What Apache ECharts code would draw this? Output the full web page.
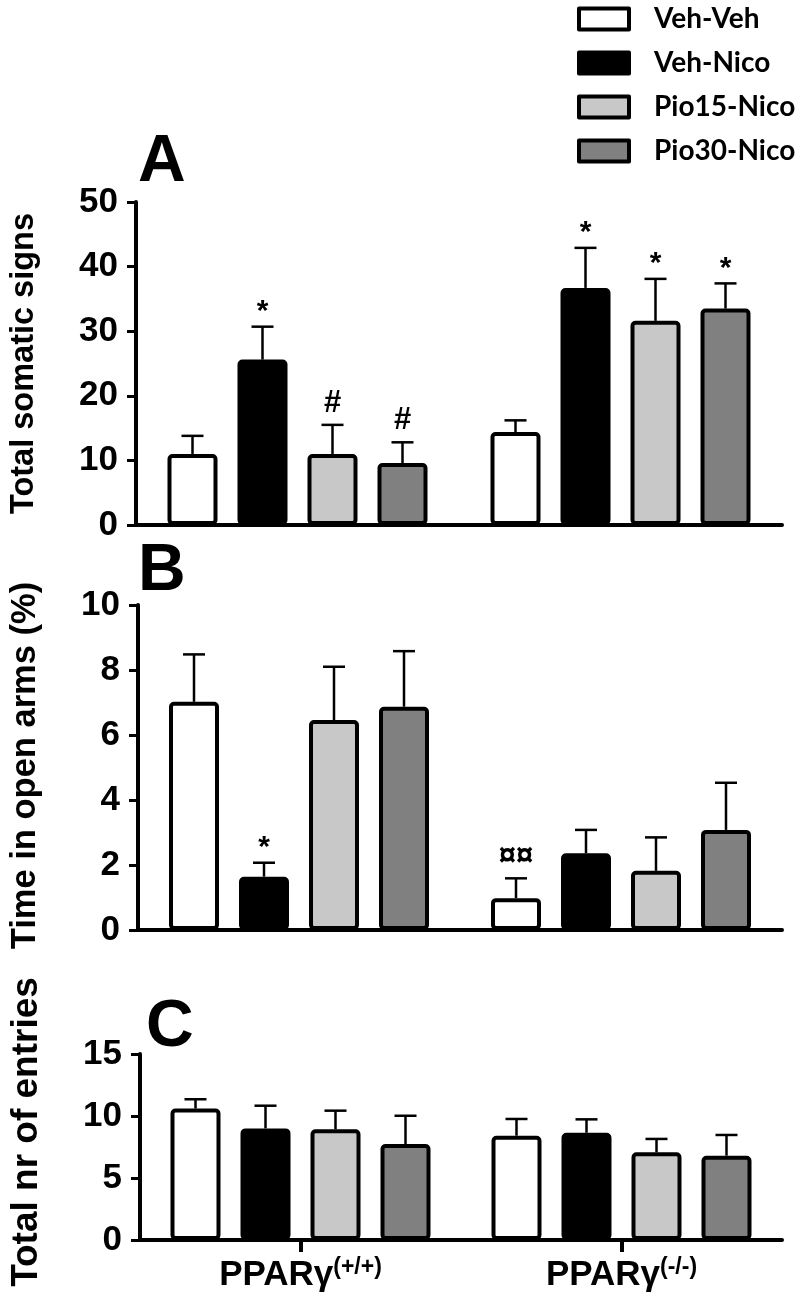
<!DOCTYPE html>
<html><head><meta charset="utf-8">
<script src="https://cdn.jsdelivr.net/npm/echarts@6/dist/echarts.min.js"></script>
<style>html,body{margin:0;padding:0;background:#fff}#c{width:800px;height:1305px}</style>
</head><body><div id="c"></div>
<script>
// ---- data ----
const groups = ['PPARγ(+/+)', 'PPARγ(-/-)'];
const treatments = ['Veh-Veh', 'Veh-Nico', 'Pio15-Nico', 'Pio30-Nico'];

// Panel A: Total somatic signs (rows = treatments, cols = groups)
const somaticMean = [[11.0, 14.4], [25.6, 36.7], [11.0, 31.6], [9.6, 33.5]];
const somaticSem  = [[2.8, 1.8], [5.1, 6.2], [4.5, 6.5], [3.2, 3.9]];
const somaticMarks = [['', ''], ['*', '*'], ['#', '*'], ['#', '*']];
const somaticAxis = { min: 0, max: 50, interval: 10 };

// Panel B: Time in open arms (%)
const openArmsMean = [[7.02, 0.98], [1.64, 2.36], [6.46, 1.82], [6.87, 3.08]];
const openArmsSem  = [[1.46, 0.61], [0.43, 0.72], [1.64, 1.03], [1.71, 1.45]];
const openArmsMarks = [['', '¤¤'], ['*', ''], ['', ''], ['', '']];
const openArmsAxis = { min: 0, max: 10, interval: 2 };

// Panel C: Total nr of entries
const entriesMean = [[10.6, 8.41], [9.0, 8.65], [8.93, 7.07], [7.74, 6.8]];
const entriesSem  = [[0.75, 1.35], [1.83, 1.08], [1.5, 1.08], [2.28, 1.67]];
const entriesMarks = [['', ''], ['', ''], ['', ''], ['', '']];
const entriesAxis = { min: 0, max: 15, interval: 5 };

const panelNames = ['Total somatic signs', 'Time in open arms (%)', 'Total nr of entries'];
const panelLetters = ['A', 'B', 'C'];

// ---- styles ----
const fills = ['#ffffff', '#000000', '#c8c8c8', '#808080'];
const FONT = 'Liberation Sans';
const barWidth = 50, barStep = 70;
const grids = [
  { left: 128, right: 18, top: 202, bottom: 780 },
  { left: 128, right: 18, top: 605, bottom: 375 },
  { left: 128, right: 18, top: 1054, bottom: 65 }
];
const nameSizes = [32.5, 34.5, 37];
const namePads = [[0, 0, 0, 0], [0, 0, 0, 4], [0, 0, 0, 30]];
const panels = [
  { mean: somaticMean, sem: somaticSem, marks: somaticMarks, axis: somaticAxis },
  { mean: openArmsMean, sem: openArmsSem, marks: openArmsMarks, axis: openArmsAxis },
  { mean: entriesMean, sem: entriesSem, marks: entriesMarks, axis: entriesAxis }
];

const xAxes = panels.map((p, k) => ({
  type: 'category', gridIndex: k, data: groups, boundaryGap: true,
  axisLine: { lineStyle: { color: '#000', width: 4 } },
  axisTick: { show: k === 2, alignWithLabel: true, length: 12, lineStyle: { color: '#000', width: 4 } },
  axisLabel: {
    show: k === 2, margin: 16,
    formatter: v => { const i = v.indexOf('('); return '{a|' + v.slice(0, i) + '}{b|' + v.slice(i) + '}'; },
    rich: {
      a: { fontFamily: FONT, fontWeight: 'bold', fontSize: 35, color: '#000' },
      b: { fontFamily: FONT, fontWeight: 'bold', fontSize: 23, color: '#000', verticalAlign: 'top', padding: [0, 0, 16, 0] }
    }
  }
}));

const yAxes = panels.map((p, k) => ({
  type: 'value', gridIndex: k, min: p.axis.min, max: p.axis.max, interval: p.axis.interval,
  name: panelNames[k], nameLocation: 'middle', nameRotate: 90, nameGap: 95,
  nameTextStyle: { fontFamily: FONT, fontWeight: 'bold', fontSize: nameSizes[k], color: '#000', padding: namePads[k] },
  splitLine: { show: false },
  axisLine: { show: true, lineStyle: { color: '#000', width: 4 } },
  axisTick: { show: true, length: 9, lineStyle: { color: '#000', width: 3 } },
  axisLabel: { fontFamily: FONT, fontWeight: 'bold', fontSize: 35, color: '#000', margin: 18 }
}));

const series = [];
panels.forEach((p, k) => {
  treatments.forEach((t, s) => {
    series.push({
      type: 'bar', name: t, xAxisIndex: k, yAxisIndex: k,
      data: p.mean[s], barWidth: barWidth, barGap: ((barStep - barWidth) / barWidth * 100) + '%',
      itemStyle: { color: fills[s], borderColor: '#000', borderWidth: 4, borderRadius: 3 },
      emphasis: { disabled: true }, z: 2
    });
  });
  treatments.forEach((t, s) => {
    series.push({
      type: 'custom', name: t + ' err', xAxisIndex: k, yAxisIndex: k, z: 3,
      data: p.mean[s].map((m, i) => [i, m, m + p.sem[s][i]]),
      renderItem: (params, api) => {
        const i = params.dataIndex;
        const cx = api.coord([api.value(0), 0])[0] + (s - 1.5) * barStep;
        const yBar = api.coord([api.value(0), api.value(1)])[1];
        const yTop = api.coord([api.value(0), api.value(2)])[1];
        const ls = { stroke: '#000', lineWidth: 2.5 };
        const children = [
          { type: 'line', shape: { x1: cx, y1: yBar, x2: cx, y2: yTop }, style: ls },
          { type: 'line', shape: { x1: cx - 11, y1: yTop, x2: cx + 11, y2: yTop }, style: ls }
        ];
        const mk = p.marks[s][i];
        if (mk) {
          const star = mk === '*';
          children.push({
            type: 'text',
            style: {
              x: cx, y: yTop - (star ? 0 : 6), text: mk, align: 'center', verticalAlign: 'bottom',
              font: (star ? 'bold 30px ' : 'bold 31px ') + FONT, fill: '#000'
            }
          });
        }
        return { type: 'group', children };
      }
    });
  });
});

const graphic = panelLetters.map((L, k) => ({
  type: 'text', left: [138, 138, 146][k], top: [130, 539, 995][k],
  style: { text: L, font: 'bold 66px ' + FONT, fill: '#000' }
}));

const chart = echarts.init(document.getElementById('c'), null, { renderer: 'canvas' });
chart.setOption({
  animation: false,
  backgroundColor: '#fff',
  grid: grids,
  xAxis: xAxes,
  yAxis: yAxes,
  legend: {
    orient: 'vertical', left: 572, top: 0, itemWidth: 50, itemHeight: 21, itemGap: 16,
    icon: 'rect', selectedMode: false, data: treatments,
    itemStyle: { borderColor: '#000', borderWidth: 4, borderJoin: 'round' },
    textStyle: { fontFamily: 'Lato', fontWeight: 'bold', fontSize: 28, color: '#000', padding: [0, 0, 0, 20] }
  },
  graphic: graphic,
  series: series
});
</script></body></html>
